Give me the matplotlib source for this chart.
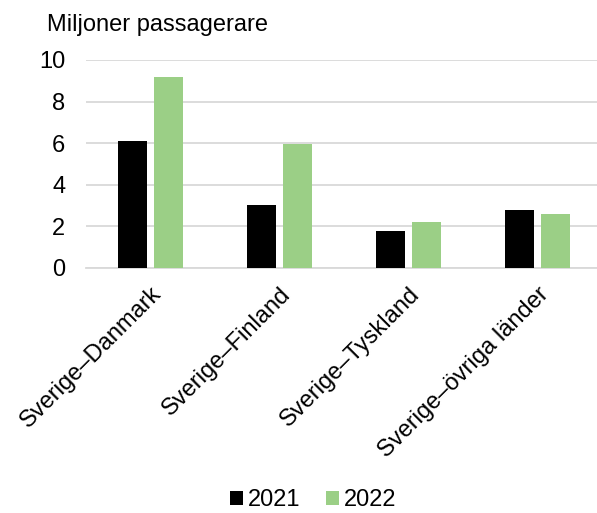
import matplotlib
matplotlib.use('Agg')
import matplotlib.pyplot as plt
import numpy as np

plt.rcParams['font.family'] = ['Liberation Sans', 'DejaVu Sans']

categories = ['Sverige–Danmark', 'Sverige–Finland', 'Sverige–Tyskland', 'Sverige–övriga länder']
values_2021 = [6.09, 3.02, 1.77, 2.78]
values_2022 = [9.18, 5.97, 2.18, 2.57]
years = ['2021', '2022']
yticks = [0, 2, 4, 6, 8, 10]

color_2021 = '#000000'
color_2022 = '#9BCF86'
grid_color = '#D9D9D9'

fig = plt.figure(figsize=(5.97, 5.13), dpi=100)
# axes: left edge of plot at x=86px, y=0 at 267.7px, y=10 at 60px
ax = fig.add_axes([86 / 597, 1 - 267.7 / 513, 516 / 597, 207.7 / 513])

x = np.arange(len(categories))
w = 0.224
off = 0.142
ax.bar(x - off, values_2021, w, color=color_2021, label=years[0], zorder=3)
ax.bar(x + off, values_2022, w, color=color_2022, label=years[1], zorder=3)

ax.set_xlim(-0.5, len(categories) - 0.5)
ax.set_ylim(0, 10)
ax.set_yticks(yticks)
ax.set_yticklabels([str(t) for t in yticks], fontsize=17)
ax.yaxis.grid(True, color=grid_color, linewidth=1.3, zorder=0)
ax.set_axisbelow(True)

for s in ['top', 'right', 'left']:
    ax.spines[s].set_visible(False)
ax.spines['bottom'].set_color(grid_color)
ax.spines['bottom'].set_linewidth(1.3)
ax.tick_params(axis='y', length=0, pad=15)
ax.tick_params(axis='x', length=0, pad=11)

ax.set_xticks(x)
ax.set_xticklabels(categories, fontsize=17, rotation=45, ha='right',
                   va='top', rotation_mode='anchor')

fig.text(47 / 597, 1 - 31 / 513, 'Miljoner passagerare', fontsize=17,
         ha='left', va='baseline')

fig.legend(loc='lower center', bbox_to_anchor=(0.525, -0.038), ncol=2,
           frameon=False, fontsize=17, handlelength=0.55, handleheight=0.55,
           handletextpad=0.2, columnspacing=1.1)

fig.savefig('out.png', dpi=100)
